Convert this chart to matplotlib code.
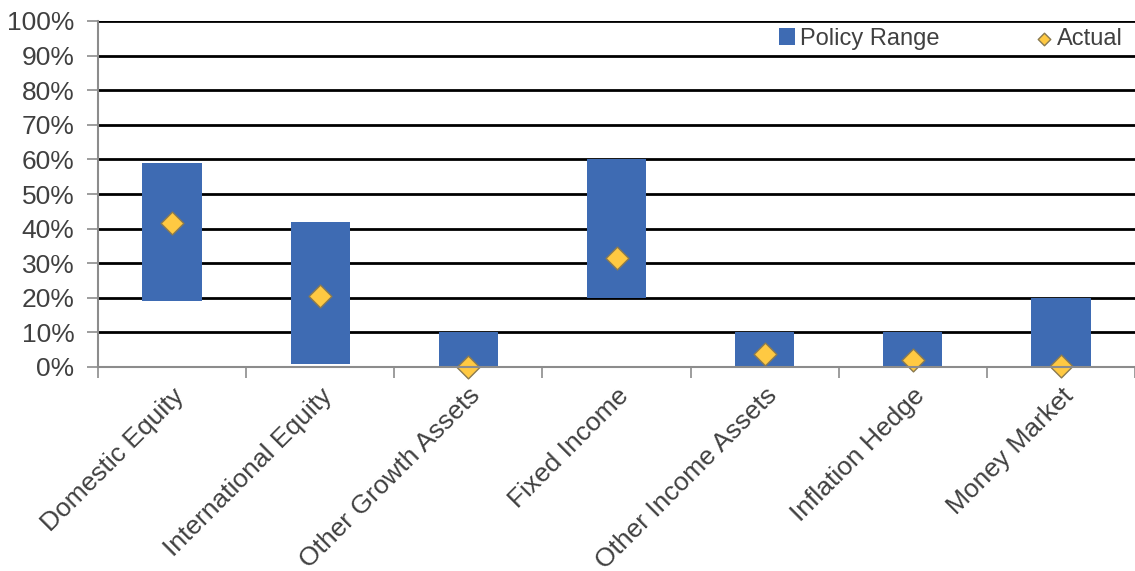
import matplotlib
matplotlib.use("Agg")
import matplotlib.pyplot as plt
from matplotlib.ticker import FuncFormatter, FixedLocator
import numpy as np

plt.rcParams['font.family'] = ['Liberation Sans', 'DejaVu Sans']

categories = ["Domestic Equity", "International Equity", "Other Growth Assets",
              "Fixed Income", "Other Income Assets", "Inflation Hedge", "Money Market"]
range_low = [19, 1, 0, 20, 0, 0, 0]
range_high = [59, 42, 10, 60, 10, 10, 20]
actual = [41.5, 20.6, 0.0, 31.4, 3.8, 2.0, 0.4]
yticks = [0, 10, 20, 30, 40, 50, 60, 70, 80, 90, 100]

bar_color = "#3E6BB3"
marker_color = "#FFC942"
gray = "#8C8C8C"
text_color = "#404040"

fig = plt.figure(figsize=(11.35, 5.71), dpi=100)
ax = fig.add_axes([98/1135, 1 - 367/571, (1135 - 98)/1135, (367 - 21)/571])

x = np.arange(len(categories))
heights = [h - l for h, l in zip(range_high, range_low)]
bars = ax.bar(x, heights, bottom=range_low, width=0.4, color=bar_color, zorder=3,
              label="Policy Range")
pts = ax.scatter(x, actual, marker="D", s=135, color=marker_color, edgecolor="#8A7A50",
                 linewidth=1.0, zorder=4, label="Actual", clip_on=False)

ax.set_xlim(-0.5, len(categories) - 0.5)
ax.set_ylim(0, 100)
ax.set_yticks(yticks)
ax.yaxis.set_major_formatter(FuncFormatter(lambda v, p: f"{int(v)}%"))
for yv in yticks[1:]:
    ax.axhline(yv, color="black", linewidth=2, zorder=1)

ax.set_xticks(x)
ax.set_xticklabels(categories, rotation=45, ha="right", rotation_mode="anchor",
                   fontsize=19, color=text_color)
ax.tick_params(axis="x", which="major", length=0, pad=12)
ax.xaxis.set_minor_locator(FixedLocator(np.arange(-0.5, len(categories), 1.0)))
ax.tick_params(axis="x", which="minor", length=8, color=gray, width=1.2)
ax.tick_params(axis="y", length=8, color=gray, width=1.2, labelsize=19,
               labelcolor=text_color, pad=9)

for s in ["top", "right"]:
    ax.spines[s].set_visible(False)
for s in ["left", "bottom"]:
    ax.spines[s].set_color(gray)
    ax.spines[s].set_linewidth(1.5)
    ax.spines[s].set_zorder(5)

leg = ax.legend([bars, pts], ["Policy Range", "Actual"],
                loc="center right", bbox_to_anchor=(1.0, (367 - 39) / 346), ncol=2,
                frameon=False, fontsize=17, handlelength=0.7, handletextpad=0.2,
                columnspacing=4.1, borderpad=0.0, markerscale=0.55)
for t in leg.get_texts():
    t.set_color(text_color)

fig.savefig("out.png", dpi=100)
